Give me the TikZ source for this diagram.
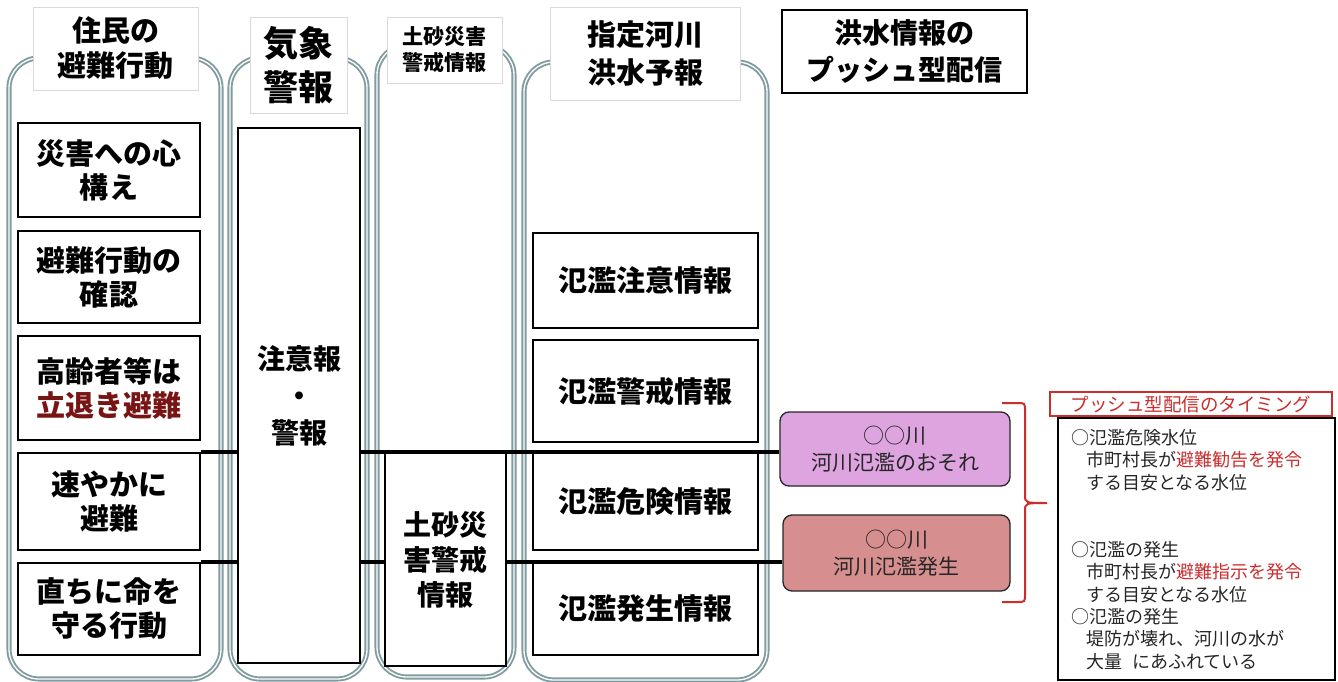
\documentclass[tikz,border=0pt]{standalone}
\usepackage{fontspec}
\setmainfont{Noto Sans CJK JP}
\definecolor{colgray}{RGB}{128,156,160}
\definecolor{plumfill}{RGB}{222,164,224}
\definecolor{rosefill}{RGB}{214,142,142}
\definecolor{redtxt}{RGB}{205,45,45}
\definecolor{darkred}{RGB}{120,20,20}
\definecolor{hdrline}{RGB}{218,218,218}
\pgfdeclarelayer{cols}
\pgfdeclarelayer{lines}
\pgfsetlayers{cols,lines,main}
\begin{document}
\begin{tikzpicture}[x=1pt,y=-1pt,
  colout/.style={draw=colgray, double=white, line width=1.9pt, double distance=1.3pt, rounded corners=30pt},
  hdr/.style={draw=hdrline, line width=0.6pt, fill=white, align=center, inner sep=0pt, font=\bfseries},
  bx/.style={draw=black, line width=2.6pt, fill=white, align=center, inner sep=0pt, font=\bfseries\fontsize{29}{34}\selectfont},
  conn/.style={draw=black, line width=3.8pt},
  tag/.style={draw=black!85, line width=1.3pt, rounded corners=9pt, align=center, inner sep=0pt, font=\fontsize{21}{27}\selectfont, text=black!85}
]
\useasboundingbox (0,0) rectangle (1338,682);
\begin{pgfonlayer}{cols}
  \fill[white] (0,0) rectangle (1338,682);
  \draw[colout] (9,58) rectangle (221,679);
  \draw[colout] (230,58) rectangle (367,679);
  \draw[colout] (377,45) rectangle (514,677);
  \draw[colout] (524,62) rectangle (767,680);
\end{pgfonlayer}

% headers
\node[hdr, minimum width=165pt, minimum height=83pt, font=\bfseries\fontsize{29}{35}\selectfont] (h1) at (115.5,48.5) {住民の\\避難行動};
\node[hdr, minimum width=97pt, minimum height=96pt, font=\bfseries\fontsize{35}{44}\selectfont] (h2) at (298.5,65) {気象\\警報};
\node[hdr, minimum width=115pt, minimum height=66pt, font=\bfseries\fontsize{21}{26}\selectfont] (h3) at (444.5,50) {土砂災害\\警戒情報};
\node[hdr, minimum width=190pt, minimum height=93pt, font=\bfseries\fontsize{29}{38}\selectfont] (h4) at (645,53.5) {指定河川\\洪水予報};
\node[hdr, draw=black, line width=1.5pt, minimum width=245pt, minimum height=83pt, font=\bfseries\fontsize{28}{37}\selectfont] (h5) at (904.5,51.5) {洪水情報の\\プッシュ型配信};

% column 1
\node[bx, minimum width=182pt, minimum height=94pt] (b1) at (109,170) {災害への心\\構え};
\node[bx, minimum width=182pt, minimum height=92pt] (b2) at (109,277) {避難行動の\\確認};
\node[bx, minimum width=182pt, minimum height=104pt] (b3) at (109,388) {高齢者等は\\\textcolor{darkred}{立退き避難}};
\node[bx, minimum width=182pt, minimum height=97pt] (b4) at (109,501.5) {速やかに\\避難};
\node[bx, minimum width=182pt, minimum height=92pt] (b5) at (109,609) {直ちに命を\\守る行動};

% column 2, 3
\node[bx, minimum width=122pt, minimum height=535pt, font=\bfseries\fontsize{28}{37}\selectfont] (c2) at (299,395.5) {注意報\\・\\警報};
\node[bx, minimum width=121pt, minimum height=213pt, font=\bfseries\fontsize{28}{35}\selectfont] (c3) at (445.5,559.5) {土砂災\\害警戒\\情報};

% column 4
\node[bx, minimum width=225pt, minimum height=95pt] (d1) at (645.5,280.5) {氾濫注意情報};
\node[bx, minimum width=225pt, minimum height=102pt] (d2) at (645.5,391) {氾濫警戒情報};
\node[bx, minimum width=225pt, minimum height=97pt] (d3) at (645.5,501.5) {氾濫危険情報};
\node[bx, minimum width=225pt, minimum height=92pt] (d4) at (645.5,609) {氾濫発生情報};

% push tags
\node[tag, fill=plumfill, minimum width=230pt, minimum height=74pt] (p1) at (895,449) {○○川\\河川氾濫のおそれ};
\node[tag, fill=rosefill, minimum width=227pt, minimum height=76pt] (p2) at (896.5,553) {○○川\\河川氾濫発生};

% timing
\node[draw=redtxt, line width=1.5pt, text=redtxt, inner sep=0pt, minimum width=282pt, minimum height=24pt, font=\fontsize{18.5}{20}\selectfont] (tt) at (1191,404) {プッシュ型配信のタイミング};
\node[draw=black, line width=1.5pt, inner sep=0pt, minimum width=277pt, minimum height=262pt] (tb) at (1196.5,549) {};
\node[anchor=north west, align=left, inner sep=0pt, font=\fontsize{18}{22.4}\selectfont, text=black!85] (tx) at (1071,429) {%
○氾濫危険水位\\
\hspace*{15pt}市町村長が\textcolor{redtxt}{避難勧告を発令}\\
\hspace*{15pt}する目安となる水位\\[44.8pt]
○氾濫の発生\\
\hspace*{15pt}市町村長が\textcolor{redtxt}{避難指示を発令}\\
\hspace*{15pt}する目安となる水位\\
○氾濫の発生\\
\hspace*{15pt}堤防が壊れ、河川の水が\\
\hspace*{15pt}大量\hspace{10pt}にあふれている};

% connectors
\begin{pgfonlayer}{lines}
  \draw[conn] (b4.north east) -- (b4.north east -| p1.west);
  \draw[conn] (b5.north east) -- (b5.north east -| p2.west);
\end{pgfonlayer}

% brace
\coordinate (brtip) at (1047,503);
\draw[redtxt, line width=2pt] (1002,403) -- (1017,403) .. controls (1025,403) .. (1025,411) -- (1025,495) .. controls (1025,503) .. (brtip)
  (brtip) .. controls (1025,503) .. (1025,511) -- (1025,594) .. controls (1025,602) .. (1017,602) -- (1002,602);
\end{tikzpicture}
\end{document}
